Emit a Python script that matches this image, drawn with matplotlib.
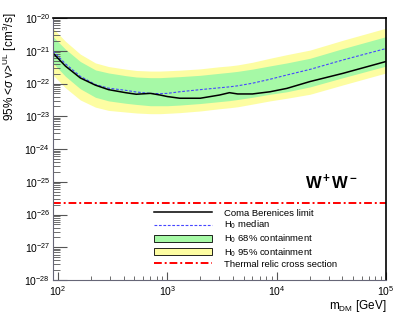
import numpy as np
import matplotlib
matplotlib.use('Agg')
import matplotlib.pyplot as plt
from matplotlib.patches import Patch
from matplotlib.lines import Line2D
from matplotlib.ticker import LogLocator

plt.rcParams['font.family'] = 'Liberation Sans'
plt.rcParams['mathtext.fontset'] = 'custom'
plt.rcParams['mathtext.rm'] = 'Liberation Sans'
plt.rcParams['mathtext.it'] = 'Liberation Sans:italic'
plt.rcParams['mathtext.bf'] = 'Liberation Sans:bold'

# DM mass grid [GeV]
mass = [90, 117, 160, 220, 290, 415, 520, 700, 860, 1000, 1300, 2000,
        3000, 3700, 4400, 6000, 8700, 12400, 20200, 40500, 100000]
# 95% UL from Coma Berenices
limit = [8.5e-22, 3.4e-22, 1.48e-22, 8.9e-23, 6.5e-23, 5.25e-23, 4.7e-23,
         5.0e-23, 4.45e-23, 4.0e-23, 3.55e-23, 3.55e-23, 4.45e-23, 5.25e-23,
         4.8e-23, 4.8e-23, 5.6e-23, 7.1e-23, 1.15e-22, 2.05e-22, 4.7e-22]
# H0 expectation
median = [9.8e-22, 4.0e-22, 1.66e-22, 9.3e-23, 7.2e-23, 6.2e-23, 5.5e-23,
          5.0e-23, 4.9e-23, 5.0e-23, 5.6e-23, 6.5e-23, 7.4e-23, 7.9e-23,
          8.5e-23, 1.02e-22, 1.35e-22, 1.82e-22, 2.7e-22, 5.25e-22, 1.17e-21]
band68_hi = [2.7e-21, 1.12e-21, 4.7e-22, 2.6e-22, 2.1e-22, 1.74e-22, 1.58e-22,
             1.51e-22, 1.51e-22, 1.55e-22, 1.62e-22, 1.78e-22, 2.05e-22, 2.2e-22,
             2.35e-22, 2.75e-22, 3.45e-22, 4.25e-22, 5.9e-22, 1.17e-21, 2.7e-21]
band68_lo = [4.2e-22, 1.66e-22, 6.9e-23, 3.8e-23, 2.95e-23, 2.5e-23, 2.3e-23,
             2.1e-23, 2.1e-23, 2.1e-23, 2.2e-23, 2.45e-23, 2.8e-23, 3.0e-23,
             3.25e-23, 3.8e-23, 4.7e-23, 5.6e-23, 7.9e-23, 1.51e-22, 3.4e-22]
band95_hi = [4.9e-21, 1.95e-21, 7.9e-22, 4.25e-22, 3.3e-22, 2.75e-22, 2.5e-22,
             2.4e-22, 2.4e-22, 2.45e-22, 2.55e-22, 2.8e-22, 3.25e-22, 3.45e-22,
             3.7e-22, 4.45e-22, 5.9e-22, 7.6e-22, 1.05e-21, 2.1e-21, 4.9e-21]
band95_lo = [1.82e-22, 7.4e-23, 3.15e-23, 1.9e-23, 1.51e-23, 1.35e-23, 1.26e-23,
             1.2e-23, 1.2e-23, 1.23e-23, 1.29e-23, 1.45e-23, 1.7e-23, 1.82e-23,
             1.95e-23, 2.35e-23, 2.95e-23, 3.55e-23, 4.7e-23, 9.1e-23, 2.1e-22]
thermal_mass = [90, 100000]
thermal = [2.3e-26, 2.3e-26]

c_green = '#a6f9a6'
c_yellow = '#fdfda2'

fig = plt.figure(figsize=(4.07, 3.15), dpi=100)
ax = fig.add_axes([0.1302, 0.1111, 0.8182, 0.8317])

ax.fill_between(mass, band95_lo, band95_hi, color=c_yellow, lw=0)
ax.fill_between(mass, band68_lo, band68_hi, color=c_green, lw=0)
ax.plot(mass, median, color='#4646ff', lw=0.8, ls=(0, (2.5, 1.5)))
ax.plot(mass, limit, color='black', lw=1.1)
ax.plot(thermal_mass, thermal, color='red', lw=1.4, ls=(0, (4, 1.5, 1, 1.5)))

ax.set_xscale('log')
ax.set_yscale('log')
ax.set_xlim(90, 1e5)
ax.set_ylim(1e-28, 1e-20)
ax.yaxis.set_major_locator(LogLocator(base=10, numticks=20))
ax.yaxis.set_minor_locator(LogLocator(base=10, subs=np.arange(2, 10), numticks=20))

for s in ['left', 'bottom']:
    ax.spines[s].set_color('#666677')
for s in ['top', 'right']:
    ax.spines[s].set_linewidth(1.2)
ax.tick_params(axis='both', which='both', direction='in', colors='#555555',
               labelcolor='black', labelsize=7.5)
ax.tick_params(axis='y', which='major', length=10, pad=2)
ax.tick_params(axis='y', which='minor', length=5)
ax.tick_params(axis='x', which='major', length=6, pad=3)
ax.tick_params(axis='x', which='minor', length=3)

fig.text(10 / 407, 1 - 13 / 315, r'95% <$\sigma$ v>$^{\rm UL}$ [cm$^{3}$/s]',
         rotation=90, ha='center', va='top', fontsize=8.5)
fig.text(386 / 407, 1 - 306 / 315, r'm$_{\rm DM}$ [GeV]',
         ha='right', va='center', fontsize=8.5)
ax.text(0.757, 0.374, r'W$^{\bf +}$W$^{\bf -}$', transform=ax.transAxes,
        fontsize=12, fontweight='bold', ha='left', va='center')

handles = [Line2D([], [], color='black', lw=1.1),
           Line2D([], [], color='#4646ff', lw=0.8, ls=(0, (2.5, 1.5))),
           Patch(facecolor=c_green, edgecolor='black', lw=0.6),
           Patch(facecolor=c_yellow, edgecolor='black', lw=0.6),
           Line2D([], [], color='red', lw=1.4, ls=(0, (4, 1.5, 1, 1.5)))]
labels = ['Coma Berenices limit', r'H$_0$ median', r'H$_0$ 68% containment',
          r'H$_0$ 95% containment', 'Thermal relic cross section']
ax.legend(handles, labels, loc='upper left', bbox_to_anchor=(0.303, 0.272),
          frameon=False, fontsize=6.8, handlelength=6.2, handleheight=0.75,
          handletextpad=1.2, labelspacing=0.12, borderpad=0, borderaxespad=0)

fig.savefig('out.png', dpi=100)
